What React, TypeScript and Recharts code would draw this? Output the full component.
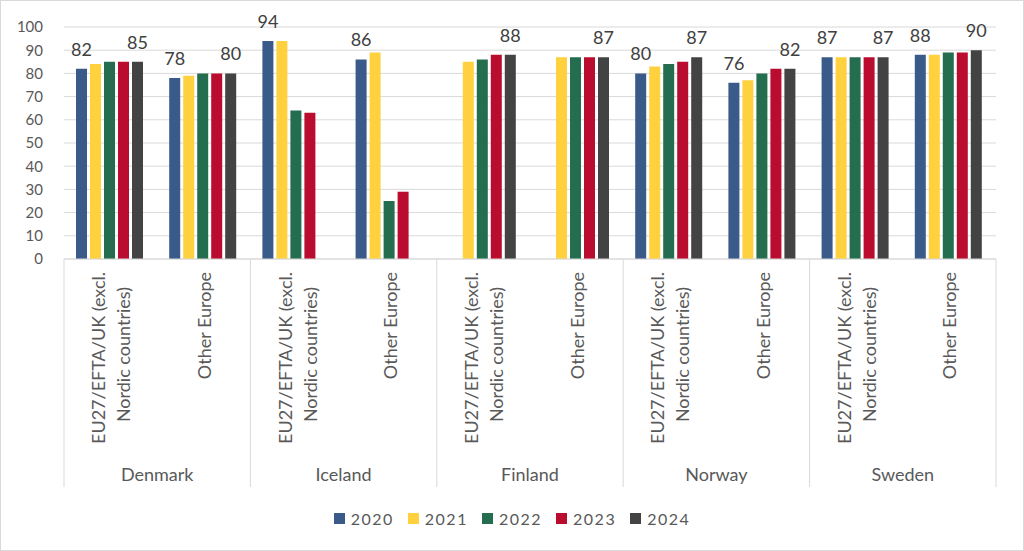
import React from "react";
import {
  BarChart,
  Bar,
  XAxis,
  YAxis,
  CartesianGrid,
  Legend,
  LabelList,
} from "recharts";

const countries = ["Denmark", "Iceland", "Finland", "Norway", "Sweden"];
const regions = ["EU27/EFTA/UK (excl.|Nordic countries)", "Other Europe"];
const years = ["2020", "2021", "2022", "2023", "2024"];
const yTicks = [0, 10, 20, 30, 40, 50, 60, 70, 80, 90, 100];

// order: DK-EU, DK-Other, IS-EU, IS-Other, FI-EU, FI-Other, NO-EU, NO-Other, SE-EU, SE-Other
const v2020 = [82, 78, 94, 86, null, null, 80, 76, 87, 88];
const v2021 = [84, 79, 94, 89, 85, 87, 83, 77, 87, 88];
const v2022 = [85, 80, 64, 25, 86, 87, 84, 80, 87, 89];
const v2023 = [85, 80, 63, 29, 88, 87, 85, 82, 87, 89];
const v2024 = [85, 80, null, null, 88, 87, 87, 82, 87, 90];

const colors = ["#3A5A8A", "#FFD13F", "#256D4F", "#BA0C2F", "#434343"];
const seriesValues = [v2020, v2021, v2022, v2023, v2024];

const data = countries.flatMap((country, ci) =>
  regions.map((region, ri) => {
    const i = ci * 2 + ri;
    const row: Record<string, string | number | null> = {
      key: `${country}-${ri}`,
      region,
      country,
    };
    years.forEach((y, yi) => {
      row[y] = seriesValues[yi][i];
    });
    return row;
  })
);

const FONT = "Lato, 'Open Sans', sans-serif";
const TEXT = "#595959";
const GRID = "#d9d9d9";

function RegionTick(props: any) {
  const { x, y, index, payload } = props;
  const half = payload?.offset ?? 46.5;
  const row = data[index];
  const lines = String(row.region).split("|");
  const startsCountry = index % 2 === 0;
  const isLast = index === data.length - 1;
  return (
    <g>
      {lines.map((line, li) => {
        const lx = lines.length === 1 ? x : x + (li === 0 ? -12.5 : 12.5);
        const ly = y + 13 + (li === 0 ? 0 : 15);
        return (
          <text
            key={li}
            x={lx}
            y={ly}
            transform={`rotate(-90 ${lx} ${ly})`}
            textAnchor="end"
            dominantBaseline="central"
            fontSize={18}
            fill={TEXT}
            fontFamily={FONT}
          >
            {line}
          </text>
        );
      })}
      {startsCountry && (
        <>
          <line x1={x - half} x2={x - half} y1={y} y2={y + 228} stroke={GRID} />
          <text
            x={x + half}
            y={y + 215}
            textAnchor="middle"
            dominantBaseline="central"
            fontSize={18}
            fill={TEXT}
            fontFamily={FONT}
          >
            {row.country}
          </text>
        </>
      )}
      {isLast && (
        <line x1={x + half} x2={x + half} y1={y} y2={y + 228} stroke={GRID} />
      )}
    </g>
  );
}

function LegendContent() {
  return (
    <div
      style={{
        display: "flex",
        justifyContent: "center",
        alignItems: "center",
        height: 30,
        fontFamily: FONT,
        fontSize: 16,
        color: TEXT,
        letterSpacing: 1.5,
      }}
    >
      {years.map((y, i) => (
        <div
          key={y}
          style={{ display: "flex", alignItems: "center", margin: "0 7px" }}
        >
          <span
            style={{
              display: "inline-block",
              width: 11,
              height: 11,
              background: colors[i],
              marginRight: 6,
            }}
          />
          {y}
        </div>
      ))}
    </div>
  );
}

export default function App() {
  return (
    <div
      style={{
        position: "absolute",
        left: 0,
        top: 0,
        width: 1022,
        height: 549,
        border: `1px solid ${GRID}`,
        background: "#fff",
      }}
    >
      <BarChart
        width={1022}
        height={549}
        data={data}
        margin={{ top: 26, right: 27, bottom: 33, left: 0 }}
        barCategoryGap={12}
        barGap={3}
      >
        <CartesianGrid vertical={false} stroke={GRID} />
        <XAxis
          dataKey="key"
          interval={0}
          height={228}
          tickSize={0}
          tickMargin={0}
          tickLine={false}
          axisLine={{ stroke: GRID }}
          tick={<RegionTick />}
        />
        <YAxis
          domain={[0, 100]}
          ticks={yTicks}
          width={63}
          tickSize={0}
          tickMargin={21}
          axisLine={false}
          tickLine={false}
          tick={{ fontSize: 15, fill: TEXT, fontFamily: FONT }}
        />
        <Legend
          content={<LegendContent />}
          wrapperStyle={{ top: 502, bottom: "auto", left: 0, width: 1022, height: 30 }}
        />
        {years.map((y, i) => (
          <Bar key={y} dataKey={y} fill={colors[i]} isAnimationActive={false}>
            {(i === 0 || i === 4) && (
              <LabelList
                dataKey={y}
                position="top"
                offset={13}
                fill="#404040"
                fontSize={18}
                fontFamily={FONT}
              />
            )}
          </Bar>
        ))}
      </BarChart>
    </div>
  );
}
